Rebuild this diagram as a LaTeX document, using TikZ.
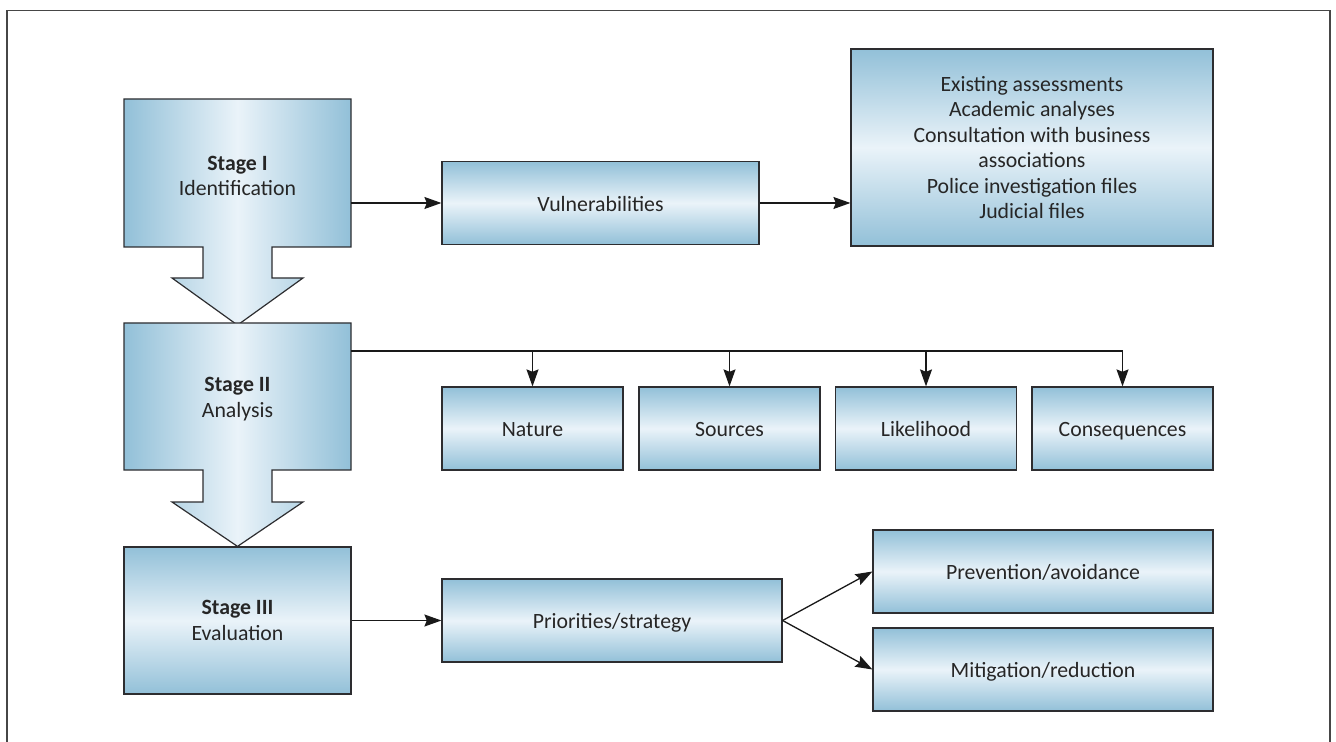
\documentclass[tikz,border=0pt]{standalone}
\usepackage{fontspec}
\setmainfont{Carlito}
\usetikzlibrary{arrows.meta,backgrounds,calc}
\definecolor{edgeblue}{RGB}{146,192,216}
\definecolor{midblue}{RGB}{234,243,249}
\definecolor{linegray}{RGB}{45,45,48}
\definecolor{framegray}{RGB}{70,70,70}
\begin{document}
\begin{tikzpicture}[x=0.5pt,y=-0.5pt,
  txt/.style={font=\fontsize{10.9}{12.7}\selectfont, text=black!85, align=center, inner sep=0pt},
  vbox/.style={txt, draw=linegray, line width=0.6pt, top color=edgeblue, bottom color=edgeblue, middle color=midblue},
  onebox/.style={vbox, text height=1.9ex, text depth=0.2ex},
  stagetext/.style={txt, minimum width=113.5pt, minimum height=74pt},
  hshade/.style={draw=linegray, line width=0.6pt, left color=edgeblue, right color=edgeblue, middle color=midblue},
  arr/.style={draw=black!90, line width=0.65pt, -{Stealth[length=8.5pt,width=6pt,inset=1.2pt]}},
  plain/.style={draw=black!90, line width=0.65pt}
]
\useasboundingbox (0,0) rectangle (1336,742);
% outer frame
\draw[framegray, line width=0.8pt] (7,742) -- (7,10.5) -- (1330,10.5) -- (1330,742);

% stage nodes
\node[stagetext] (s1) at (237.5,176) {\textbf{Stage I}\\Identification};
\node[stagetext, minimum height=73.5pt] (s2) at (237.5,399) {\textbf{Stage II}\\Analysis};
\node[vbox, minimum width=113.5pt, minimum height=73.5pt] (s3) at (237.5,620.5) {\textbf{Stage III}\\Evaluation};

\begin{pgfonlayer}{background}
\path[hshade] (124,99) -- (351,99) -- (351,247)
  -- (272,247) -- (272,278) -- (303,278)
  -- (s2.north)
  -- (172,278) -- (203,278) -- (203,247)
  -- (124,247) -- cycle;
\path[hshade] (124,323) -- (351,323) -- (351,470)
  -- (272,470) -- (272,502) -- (303,502)
  -- (s3.north)
  -- (172,502) -- (203,502) -- (203,470)
  -- (124,470) -- cycle;
\end{pgfonlayer}

% stage I row
\node[onebox, minimum width=158.5pt, minimum height=41.5pt] (vul) at (600.5,203) {Vulnerabilities};
\node[vbox, minimum width=181pt, minimum height=98.5pt] (src) at (1032,147.5)
  {Existing assessments\\Academic analyses\\Consultation with business\\associations\\Police investigation files\\Judicial files};
\draw[arr] (s1.east |- vul.west) -- (vul.west);
\draw[arr] (vul.east) -- (src.west |- vul.east);

% stage II row
\node[onebox, minimum width=90.5pt, minimum height=41.5pt] (nat) at (532.5,428.5) {Nature};
\node[onebox, minimum width=90.5pt, minimum height=41.5pt] (sou) at (729.5,428.5) {Sources};
\node[onebox, minimum width=90.5pt, minimum height=41.5pt] (lik) at (926,428.5) {Likelihood};
\node[onebox, minimum width=90.5pt, minimum height=41.5pt] (con) at (1122.5,428.5) {Consequences};
\coordinate (bus) at (351,351);
\draw[plain] (bus) -- (bus -| con.north);
\draw[arr] (bus -| con.north) -- (con.north);
\draw[arr] (bus -| nat.north) -- (nat.north);
\draw[arr] (bus -| sou.north) -- (sou.north);
\draw[arr] (bus -| lik.north) -- (lik.north);

% stage III row
\node[onebox, minimum width=170pt, minimum height=41.5pt] (pri) at (612,620.5) {Priorities/strategy};
\node[onebox, minimum width=170pt, minimum height=41.5pt] (pre) at (1043,571.5) {Prevention/avoidance};
\node[onebox, minimum width=170pt, minimum height=41.5pt] (mit) at (1043,669.5) {Mitigation/reduction};
\draw[arr] (s3.east) -- (pri.west);
\draw[arr] (pri.east) -- (pre.west);
\draw[arr] (pri.east) -- (mit.west);
\end{tikzpicture}
\end{document}
